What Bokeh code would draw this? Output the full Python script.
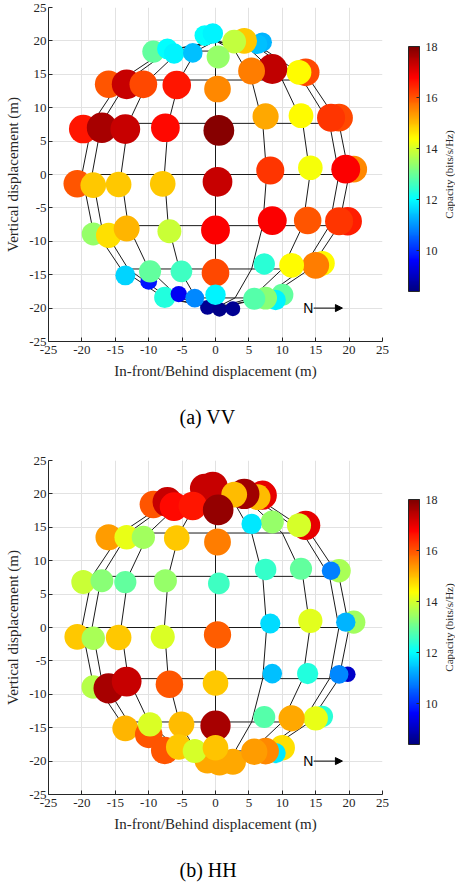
import numpy as np
from bokeh.plotting import figure
from bokeh.models import (ColumnDataSource, LinearColorMapper, ColorBar, FixedTicker,
                          Label, Arrow, NormalHead, Range1d, Title, LinearAxis)
from bokeh.layouts import column, row
from bokeh.embed import file_html
from bokeh.resources import INLINE

# ---------------- data (drone positions, shared by both panels) ----------------
POS_X = [-1.6, -0.4, 7.0, 6.3, 4.3, 2.8, -9.3, -7.2, -6.2, -3.4, 0.4,
         -16.0, -13.3, -10.8, -5.8, 0.3, 13.5, 12.5, 8.5, 5.4,
         -19.8, -17.0, -13.5, -7.5, 0.5, 18.5, 17.3, 12.8, 7.5,
         -20.7, -18.3, -14.5, -7.9, 0.3, 20.7, 19.5, 14.2, 8.2,
         -18.3, -16.0, -13.3, -6.9, 0.0, 19.8, 18.5, 13.8, 8.5,
         -13.5, -10.0, -9.8, -5.1, 0.0, 16.0, 15.0, 11.4, 7.3,
         -1.2, 0.6, 2.6, -7.6, -5.5, -3.1, 0.0, 10.0, 9.0, 7.5, 5.8]
POS_Y = [20.8, 21.1, 19.8, 19.5, 20.0, 19.9, 18.4, 18.8, 18.1, 18.2, 17.6,
         13.5, 13.5, 13.5, 13.4, 12.8, 15.3, 15.3, 15.8, 15.5,
         6.8, 7.0, 6.8, 7.0, 6.6, 8.5, 8.5, 8.8, 8.7,
         -1.4, -1.6, -1.5, -1.4, -1.1, 0.8, 0.8, 1.0, 0.6,
         -8.9, -9.1, -8.1, -8.5, -8.3, -7.0, -7.0, -6.9, -6.9,
         -15.1, -16.0, -14.5, -14.5, -14.7, -13.3, -13.6, -13.6, -13.4,
         -19.9, -20.2, -20.1, -18.4, -17.9, -18.5, -18.0, -18.0, -18.8, -18.5, -18.6]
CAP_VV = [12.0, 11.9, 11.3, 11.4, 14.9, 13.8, 12.9, 12.0, 11.9, 11.4, 13.4,
          16.0, 17.3, 16.1, 16.6, 15.5, 16.1, 14.4, 17.4, 15.6,
          16.6, 17.6, 17.3, 16.7, 17.9, 16.1, 16.3, 14.4, 15.2,
          16.0, 14.9, 14.9, 14.9, 17.3, 15.5, 16.8, 14.3, 16.3,
          13.4, 14.7, 15.1, 13.9, 16.8, 16.5, 16.3, 16.0, 16.8,
          11.6, 9.8, 12.9, 12.6, 16.1, 14.4, 15.6, 14.4, 12.4,
          8.6, 8.5, 8.6, 12.3, 9.5, 10.9, 11.9, 12.9, 11.9, 13.3, 12.8]
CAP_HH = [17.3, 17.3, 17.0, 15.0, 17.7, 15.0, 16.0, 17.3, 16.7, 16.6, 17.8,
          15.3, 14.2, 13.5, 14.9, 15.6, 17.0, 14.0, 13.4, 11.8,
          13.9, 13.3, 12.9, 13.4, 12.6, 13.6, 10.8, 12.9, 12.5,
          14.9, 13.6, 14.9, 14.05, 15.9, 13.5, 11.3, 14.1, 11.7,
          13.7, 17.6, 17.3, 16.0, 14.9, 9.1, 10.9, 12.3, 11.4,
          15.1, 16.0, 14.05, 15.0, 17.6, 12.4, 14.2, 15.2, 12.8,
          15.2, 15.2, 15.2, 16.0, 14.9, 14.0, 14.95, 14.7, 11.8, 15.5, 15.3]

CAPTIONS = ["(a) VV", "(b) HH"]
AXIS_TICKS = [-25, -20, -15, -10, -5, 0, 5, 10, 15, 20, 25]
CBAR_TICKS = [10, 12, 14, 16, 18]
CAP_LOW, CAP_HIGH = 8.4, 18.0
X_LABEL = "In-front/Behind displacement (m)"
Y_LABEL = "Vertical displacement (m)"
CBAR_LABEL = "Capacity (bits/s/Hz)"

# reference sphere wireframe (radius 20 m, 22.5 deg grid, front hemisphere)
SPHERE_R = 20.0
SPHERE_AZ = [-90, -67.5, -45, -22.5, 0, 22.5, 45, 67.5, 90]
SPHERE_EL = [-90, -67.5, -45, -22.5, 0, 22.5, 45, 67.5, 90]

# north arrow
N_TEXT = "N"
N_TEXT_X, N_ARROW_X0, N_ARROW_X1, N_Y = 13.9, 14.7, 19.0, -20.0


def jet(n=256):
    t = np.linspace(0, 1, n)
    r = np.clip(1.5 - np.abs(4 * t - 3), 0, 1)
    g = np.clip(1.5 - np.abs(4 * t - 2), 0, 1)
    b = np.clip(1.5 - np.abs(4 * t - 1), 0, 1)
    return ["#%02x%02x%02x" % (int(round(255 * a)), int(round(255 * c)), int(round(255 * d)))
            for a, c, d in zip(r, g, b)]


PALETTE = jet()


def wireframe():
    az = np.radians(SPHERE_AZ)
    el = np.radians(SPHERE_EL)
    xs, ys = [], []
    for e in el[1:-1]:
        xs.append(list(SPHERE_R * np.cos(e) * np.sin(az)))
        ys.append([SPHERE_R * np.sin(e)] * len(az))
    for a in az:
        xs.append(list(SPHERE_R * np.cos(el) * np.sin(a)))
        ys.append(list(SPHERE_R * np.sin(el)))
    return xs, ys


SERIF = "Liberation Serif"
DARK = "#262626"


def make_panel(cap, caption, top_border, bottom_border):
    p = figure(frame_width=334, frame_height=334,
               x_range=Range1d(-25, 25), y_range=Range1d(-25, 25),
               output_backend="svg", toolbar_location=None,
               min_border_left=48, min_border_right=58,
               min_border_top=top_border, min_border_bottom=bottom_border)
    p.outline_line_color = None
    p.background_fill_color = "white"

    for ax in (p.xaxis, p.yaxis):
        ax.ticker = FixedTicker(ticks=AXIS_TICKS)
        ax.major_label_overrides = {t: str(t) for t in AXIS_TICKS}
        ax.major_tick_in = 4
        ax.major_tick_out = 0
        ax.minor_tick_line_color = None
        ax.axis_line_color = DARK
        ax.major_tick_line_color = DARK
        ax.major_label_text_font = SERIF
        ax.major_label_text_font_size = "13px"
        ax.major_label_text_color = DARK
        ax.axis_label_text_font = SERIF
        ax.axis_label_text_font_size = "15px"
        ax.axis_label_text_font_style = "normal"
        ax.axis_label_text_color = DARK
    p.xaxis.axis_label = X_LABEL
    p.yaxis.axis_label = Y_LABEL
    p.xaxis.major_label_standoff = 4
    p.xaxis.axis_label_standoff = 6
    p.yaxis.major_label_standoff = 2
    p.yaxis.axis_label_standoff = 5

    p.grid.grid_line_color = "#e2e2e2"
    p.grid.grid_line_width = 1

    wx, wy = wireframe()
    p.multi_line(wx, wy, line_color="#1a1a1a", line_width=1)

    mapper = LinearColorMapper(palette=PALETTE, low=CAP_LOW, high=CAP_HIGH)
    src = ColumnDataSource(dict(x=POS_X, y=POS_Y, cap=cap,
                                size=[1.72 * c for c in cap]))
    p.scatter(x="x", y="y", size="size", marker="circle", source=src,
              fill_color={"field": "cap", "transform": mapper}, line_color=None)

    p.add_layout(Arrow(end=NormalHead(size=7, fill_color="black", line_color="black"),
                       x_start=N_ARROW_X0, y_start=N_Y, x_end=N_ARROW_X1, y_end=N_Y,
                       line_color="black", line_width=1))
    p.add_layout(Label(x=N_TEXT_X, y=N_Y, text=N_TEXT, text_align="center",
                       text_baseline="middle", text_font="Liberation Sans",
                       text_font_size="14px", text_color="black"))

    cb = ColorBar(color_mapper=mapper, ticker=FixedTicker(ticks=CBAR_TICKS),
                  location=(360, 50), width=11, height=245, padding=0, margin=0,
                  major_label_text_font=SERIF, major_label_text_font_size="12px",
                  major_label_text_color=DARK, label_standoff=6,
                  major_tick_in=3, major_tick_out=0, major_tick_line_color=DARK,
                  minor_tick_line_color=None, bar_line_color=DARK,
                  background_fill_alpha=0, border_line_color=None)
    p.add_layout(cb)

    # blank spacer below the x axis, then the sub-figure caption
    spacer = LinearAxis(ticker=FixedTicker(ticks=[]), axis_label=" ",
                        axis_label_standoff=10, axis_label_text_font_size="10px",
                        axis_line_color=None, major_tick_line_color=None,
                        minor_tick_line_color=None, major_label_text_font_size="0px")
    p.add_layout(spacer, "below")
    p.add_layout(Title(text=caption, align="left", offset=131, standoff=0,
                       vertical_align="top",
                       text_font=SERIF, text_font_size="20px",
                       text_font_style="normal", text_color="black"), "below")

    # narrow companion canvas that carries the colour-bar title (reads bottom-to-top)
    side = figure(frame_width=1, frame_height=334,
                  x_range=Range1d(0, 1), y_range=Range1d(0, 1),
                  output_backend="svg", toolbar_location=None,
                  x_axis_location=None, y_axis_location=None,
                  min_border_left=0, min_border_right=0,
                  min_border_top=top_border, min_border_bottom=bottom_border)
    side.outline_line_color = None
    side.grid.visible = False
    side.add_layout(Title(text=CBAR_LABEL, align="center", standoff=0,
                          text_font=SERIF, text_font_size="11px",
                          text_font_style="normal", text_color=DARK), "left")
    return row(p, side)


p1 = make_panel(CAP_VV, CAPTIONS[0], 7, 112)
p2 = make_panel(CAP_HH, CAPTIONS[1], 7, 88)
layout = column(p1, p2)

open("out.html", "w").write(file_html(layout, INLINE))
